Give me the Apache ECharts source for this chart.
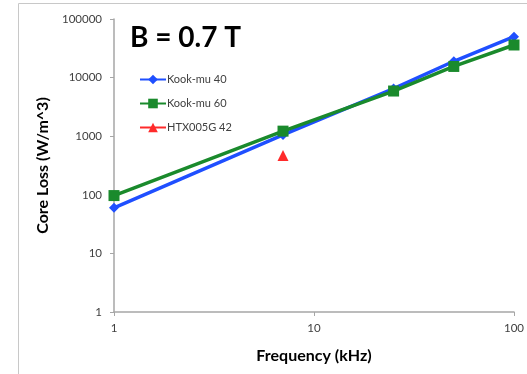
<!DOCTYPE html>
<html>
<head>
<meta charset="utf-8">
<script src="https://cdn.jsdelivr.net/npm/echarts@6/dist/echarts.min.js"></script>
<style>
  html, body { margin: 0; padding: 0; background: #fff; }
  #chart { width: 527px; height: 374px; }
</style>
</head>
<body>
<div id="chart"></div>
<script>
// 频率 (kHz)
var freq = [1, 7, 25, 50, 100];
// 各材料的铁损 (W/m^3)
var kookMu40 = [60, 1050, 6500, 19000, 50000];
var kookMu60 = [97, 1220, 5900, 15500, 36000];
var htxFreq = [7];
var htx005g42 = [470];

function pairs(xs, ys) {
  return xs.map(function (x, i) { return [x, ys[i]]; });
}

var myChart = echarts.init(document.getElementById('chart'));
var axisColor = '#a6a6a6';
var labelColor = '#404040';
var font = 'Lato, "Open Sans", sans-serif';

var option = {
  animation: false,
  textStyle: { fontFamily: font },
  graphic: [{
    type: 'rect',
    shape: { x: 18.5, y: 3.5, width: 700, height: 500 },
    style: { fill: 'none', stroke: '#c8c8c8', lineWidth: 1 },
    silent: true
  }],
  title: {
    text: 'B = 0.7 T',
    left: 125,
    top: 19,
    textStyle: { fontSize: 28, fontWeight: 'bold', color: '#000', fontFamily: font }
  },
  legend: {
    orient: 'vertical',
    left: 134,
    top: 69,
    itemGap: 13,
    itemWidth: 26,
    itemHeight: 12,
    textStyle: { fontSize: 11, color: labelColor, fontFamily: font, padding: [0, 0, 0, -4] },
    data: ['Kook-mu 40', 'Kook-mu 60', 'HTX005G 42']
  },
  grid: { left: 114, right: 8, top: 19, bottom: 62 },
  xAxis: {
    type: 'log',
    logBase: 10,
    min: 1,
    max: 100,
    name: 'Frequency (kHz)',
    nameLocation: 'middle',
    nameGap: 36,
    nameTextStyle: { fontSize: 16, fontWeight: 'bold', color: '#000', fontFamily: font },
    axisLine: { lineStyle: { color: axisColor, width: 1.5 } },
    axisTick: { show: true, length: 4, lineStyle: { color: axisColor } },
    axisLabel: { fontSize: 11.5, color: labelColor, margin: 10, formatter: function (v) { return String(v); } },
    splitLine: { show: false }
  },
  yAxis: {
    type: 'log',
    logBase: 10,
    min: 1,
    max: 100000,
    name: 'Core Loss (W/m^3)',
    nameLocation: 'middle',
    nameGap: 56,
    nameTextStyle: { fontSize: 16, fontWeight: 'bold', color: '#000', fontFamily: font },
    axisLine: { show: true, lineStyle: { color: axisColor, width: 1.5 } },
    axisTick: { show: true, length: 4, lineStyle: { color: axisColor } },
    axisLabel: { fontSize: 11.5, color: labelColor, margin: 12, formatter: function (v) { return String(v); } },
    splitLine: { show: false }
  },
  series: [
    {
      name: 'Kook-mu 40',
      type: 'line',
      data: pairs(freq, kookMu40),
      symbol: 'diamond',
      symbolSize: 10,
      color: '#1f4fff',
      lineStyle: { width: 3.5, color: '#1f4fff' },
      itemStyle: { color: '#1f4fff' },
      z: 2
    },
    {
      name: 'Kook-mu 60',
      type: 'line',
      data: pairs(freq, kookMu60),
      symbol: 'rect',
      symbolSize: 11,
      color: '#1a8a2c',
      lineStyle: { width: 3.5, color: '#1a8a2c' },
      itemStyle: { color: '#1a8a2c' },
      z: 3
    },
    {
      name: 'HTX005G 42',
      type: 'line',
      data: pairs(htxFreq, htx005g42),
      symbol: 'triangle',
      symbolSize: 11,
      color: '#ff2a2a',
      lineStyle: { width: 3.5, color: '#ff2a2a' },
      itemStyle: { color: '#ff2a2a' },
      z: 4
    }
  ]
};
myChart.setOption(option);
window.addEventListener('resize', function () { myChart.resize(); });
</script>
</body>
</html>
